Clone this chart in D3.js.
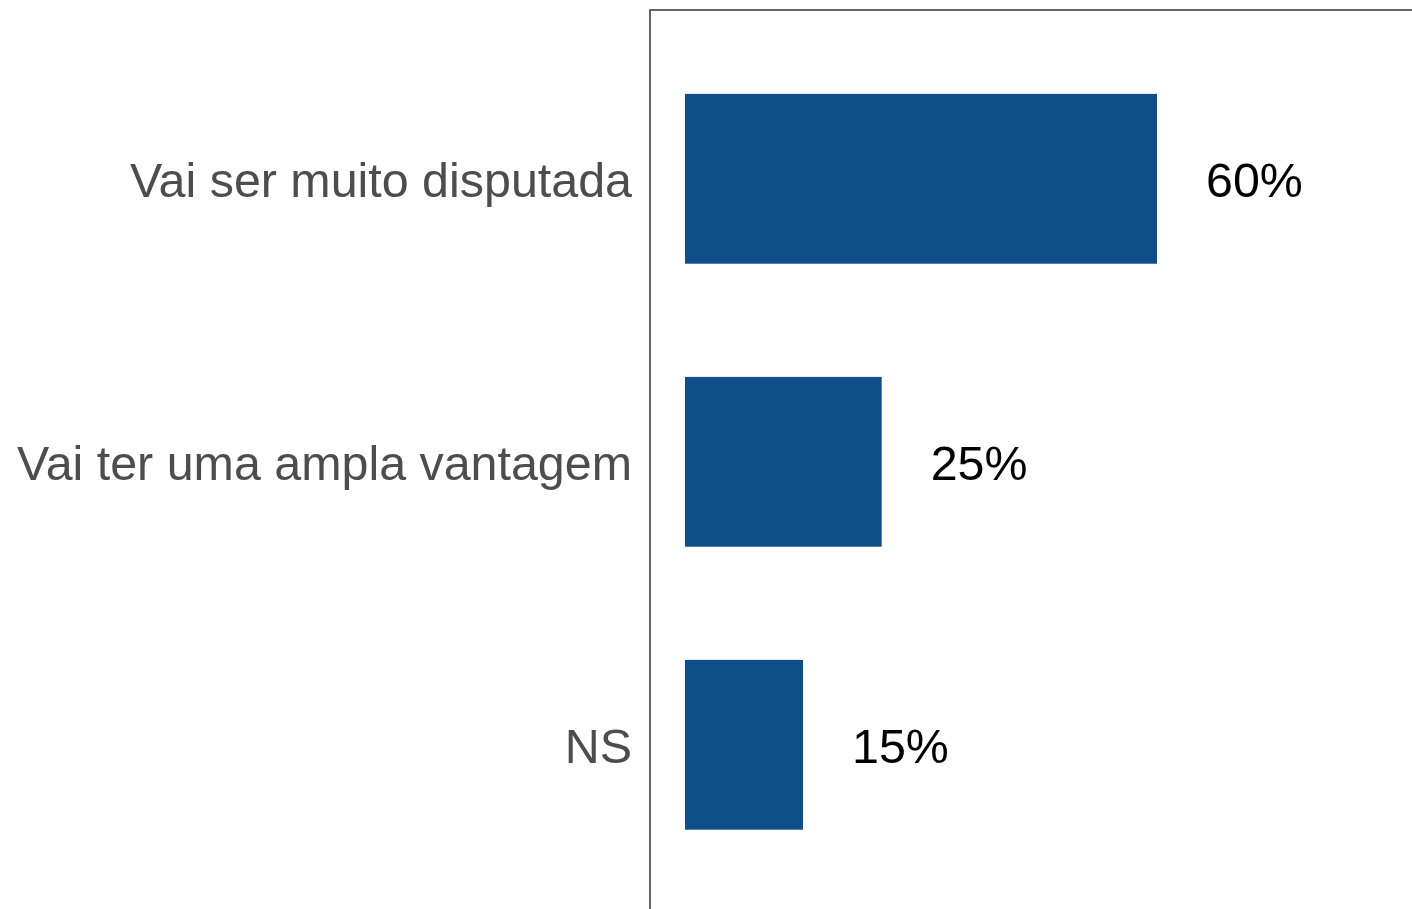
<!DOCTYPE html>
<html>
<head>
<meta charset="utf-8">
<script src="https://cdn.jsdelivr.net/npm/d3@7"></script>
<style>
    body { margin: 0; background: #fff; }
    svg { display: block; }
</style>
</head>
<body>
<svg id="chart"></svg>
<script>
const categories = ["Vai ser muito disputada", "Vai ter uma ampla vantagem", "NS"];
const values = [60, 25, 15];
const valueLabels = ["60%", "25%", "15%"];

const width = 1412;
const height = 909;

const svg = d3.select("#chart")
    .attr("width", width)
    .attr("height", height);

// panel starts at x=650, y=10 and runs off the right / bottom edges
const panel = { left: 650, top: 10 };

const xScale = d3.scaleLinear()
    .domain([0, 100])
    .range([685, 685 + 786.7]);

const yScale = d3.scaleBand()
    .domain(categories)
    .range([panel.top - 1, panel.top - 1 + 283 * 3.2])
    .paddingInner(0.4)
    .paddingOuter(0.3);

const data = categories.map((c, i) => ({ cat: c, value: values[i], label: valueLabels[i] }));

svg.append("rect")
    .attr("x", panel.left)
    .attr("y", panel.top)
    .attr("width", width)
    .attr("height", height)
    .attr("fill", "none")
    .attr("stroke", "#555")
    .attr("stroke-width", 1.8);

svg.selectAll("rect.bar")
    .data(data)
    .enter().append("rect")
    .attr("class", "bar")
    .attr("x", xScale(0))
    .attr("y", d => yScale(d.cat))
    .attr("width", d => xScale(d.value) - xScale(0))
    .attr("height", yScale.bandwidth())
    .attr("fill", "#104e8b");

svg.selectAll("text.value")
    .data(data)
    .enter().append("text")
    .attr("class", "value")
    .attr("x", d => xScale(d.value) + 49)
    .attr("y", d => yScale(d.cat) + yScale.bandwidth() / 2)
    .attr("dy", "0.37em")
    .attr("font-family", "'Liberation Sans', Arial, sans-serif")
    .attr("font-size", 48.4)
    .attr("fill", "#000")
    .text(d => d.label);

// category axis, no line or ticks
const yAxis = svg.append("g")
    .attr("transform", `translate(${panel.left},0)`)
    .call(d3.axisLeft(yScale).tickSize(0).tickPadding(18));

yAxis.select(".domain").remove();
yAxis.selectAll("text")
    .attr("dy", "0.37em")
    .attr("font-family", "'Liberation Sans', Arial, sans-serif")
    .attr("font-size", 48.4)
    .attr("fill", "#4d4d4d");
</script>
</body>
</html>
